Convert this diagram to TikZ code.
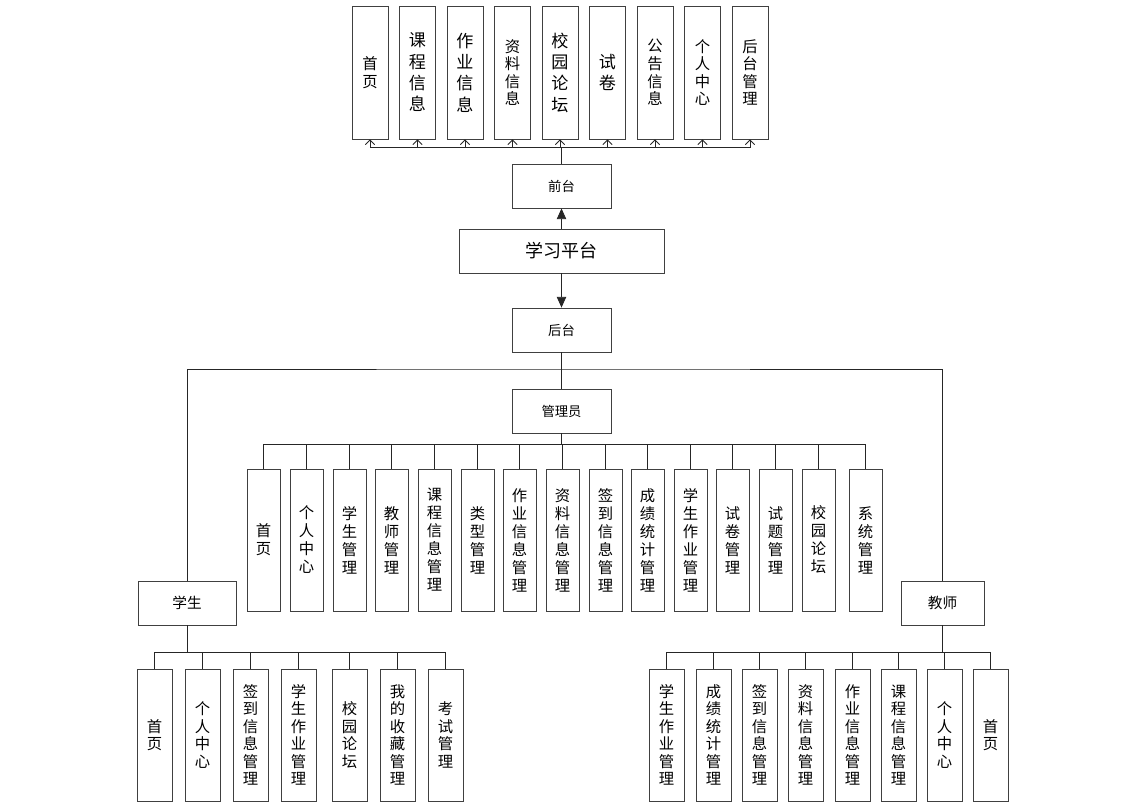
\documentclass[tikz,border=0pt]{standalone}
\usepackage{fontspec}
\setmainfont{Noto Sans CJK SC}
\usetikzlibrary{arrows.meta,positioning,calc}

\tikzset{
  box/.style={draw=black!75, line width=0.6pt, fill=white, inner sep=0pt, align=center},
  headbox/.style={box, minimum width=74.25pt, minimum height=33pt, font=\fontsize{10}{12}\selectfont},
  rolebox/.style={box, minimum height=33pt, font=\fontsize{11}{13}\selectfont},
  topbox/.style={box, minimum width=27pt, minimum height=99.75pt},
  tbig/.style={font=\fontsize{12.8}{16}\selectfont},
  tsmall/.style={font=\fontsize{11.5}{13.2}\selectfont},
  adminbox/.style={box, minimum width=24.75pt, minimum height=106.5pt, font=\fontsize{11.5}{13.5}\selectfont},
  leafbox/.style={box, minimum width=26.25pt, minimum height=99pt, font=\fontsize{11.5}{13.1}\selectfont},
  link/.style={line width=0.6pt, black!85},
  opentip/.style={link, -{Straight Barb[length=3.5pt,width=7pt]}},
  filltip/.style={link, -{Triangle[length=8pt,width=7pt]}}
}

\begin{document}
\begin{tikzpicture}[x=0.75pt, y=-0.75pt]
    \useasboundingbox (0,0) rectangle (1141,811);

    % core
    \node[box, minimum width=153.75pt, minimum height=33pt, font=\fontsize{13.5}{16}\selectfont] (pt) at (561.5,251) {学习平台};
    \node[headbox] (qt) at (561.5,186) {前台};
    \node[headbox] (ht) at (561.5,330) {后台};
    \draw[filltip] (pt.north) -- (qt.south);
    \draw[filltip] (pt.south) -- (ht.north);

    % front end
    \foreach \t/\fs [count=\i] in {首\\页/tsmall, 课\\程\\信\\息/tbig, 作\\业\\信\\息/tbig,
        资\\料\\信\\息/tsmall, 校\\园\\论\\坛/tbig, 试\\卷/tbig, 公\\告\\信\\息/tsmall,
        个\\人\\中\\心/tsmall, 后\\台\\管\\理/tsmall}
        \node[topbox, \fs] (f\i) at ({370+47.5*(\i-1)},72.5) {\t};
    \coordinate (fbus) at (561.5,147);
    \draw[link] (qt.north) -- (fbus);
    \foreach \i in {1,...,9}
        \draw[opentip] (fbus) -| (f\i.south);

    % back end roles
    \node[headbox] (gly) at (561.5,411) {管理员};
    \node[rolebox, minimum width=73.5pt] (xs) at (187,603) {学生};
    \node[rolebox, minimum width=62.25pt] (js) at (942.5,603) {教师};
    \coordinate (rail) at (561.5,369);
    \draw[link] (ht.south) -- (gly.north);
    \draw[link] (xs.north) |- (rail) -| (js.north);

    % admin
    \foreach \x/\t [count=\i] in {263.5/首\\页, 306.5/个\\人\\中\\心, 349.5/学\\生\\管\\理,
        391.5/教\\师\\管\\理, 434.5/课\\程\\信\\息\\管\\理, 477.5/类\\型\\管\\理,
        519.5/作\\业\\信\\息\\管\\理, 562.5/资\\料\\信\\息\\管\\理, 605.5/签\\到\\信\\息\\管\\理,
        647.5/成\\绩\\统\\计\\管\\理, 690.5/学\\生\\作\\业\\管\\理, 732.5/试\\卷\\管\\理,
        775.5/试\\题\\管\\理, 818.5/校\\园\\论\\坛, 865.5/系\\统\\管\\理}
        \node[adminbox] (a\i) at (\x,540) {\t};
    \coordinate (abus) at (561.5,444);
    \draw[link] (gly.south) -- (abus);
    \foreach \i in {1,...,15}
        \draw[link] (abus) -| (a\i.north);

    % student
    \foreach \x/\t [count=\i] in {154.5/首\\页, 202.5/个\\人\\中\\心, 250.5/签\\到\\信\\息\\管\\理,
        298.5/学\\生\\作\\业\\管\\理, 349.5/校\\园\\论\\坛, 397.5/我\\的\\收\\藏\\管\\理,
        445.5/考\\试\\管\\理}
        \node[leafbox] (s\i) at (\x,735) {\t};
    \coordinate (sbus) at (187,652);
    \draw[link] (xs.south) -- (sbus);
    \foreach \i in {1,...,7}
        \draw[link] (sbus) -| (s\i.north);

    % teacher
    \foreach \x/\t [count=\i] in {666.5/学\\生\\作\\业\\管\\理, 713.5/成\\绩\\统\\计\\管\\理,
        759.5/签\\到\\信\\息\\管\\理, 805.5/资\\料\\信\\息\\管\\理, 852.5/作\\业\\信\\息\\管\\理,
        898.5/课\\程\\信\\息\\管\\理, 944.5/个\\人\\中\\心, 990.5/首\\页}
        \node[leafbox] (t\i) at (\x,735) {\t};
    \coordinate (tbus) at (942.5,652);
    \draw[link] (js.south) -- (tbus);
    \foreach \i in {1,...,8}
        \draw[link] (tbus) -| (t\i.north);
\end{tikzpicture}
\end{document}
